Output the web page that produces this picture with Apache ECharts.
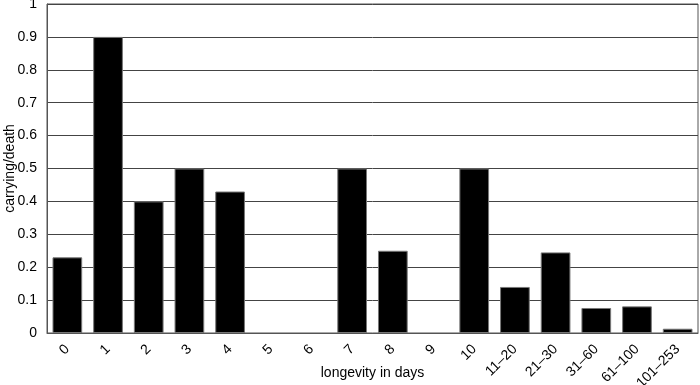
<!DOCTYPE html>
<html lang="en">
<head>
  <meta charset="UTF-8">
  <title>carrying/death</title>
  <script src="https://cdn.jsdelivr.net/npm/echarts@6/dist/echarts.min.js"></script>
</head>
<body style="margin:0;">
  <div id="main" style="width:700px;height:385px;background:#fff;"></div>
  <script type="text/javascript">
    var categories = ['0', '1', '2', '3', '4', '5', '6', '7', '8', '9', '10',
      '11–20', '21–30', '31–60', '61–100', '101–253'];
    var values = [0.23, 0.9, 0.4, 0.5, 0.43, 0, 0, 0.5, 0.25, 0, 0.5,
      0.14, 0.245, 0.076, 0.081, 0.013];

    var myChart = echarts.init(document.getElementById('main'));
    var font = 'Liberation Sans, Arial, sans-serif';

    // zero bars are not drawn at all in the original (no outline)
    var barData = values.map(function (v) { return v === 0 ? '-' : v; });

    var option = {
      animation: false,
      grid: {
        left: 47, right: 2, top: 4, bottom: 52,
        containLabel: false,
        outerBoundsMode: 'none',
        show: true, borderColor: '#555', borderWidth: 1
      },
      xAxis: {
        type: 'category',
        data: categories,
        name: 'longevity in days',
        nameLocation: 'middle',
        nameGap: 33,
        nameMoveOverlap: false,
        nameTextStyle: { color: '#000', fontSize: 14, fontFamily: font },
        axisLine: { lineStyle: { color: '#555' } },
        axisTick: { inside: true, length: 4, lineStyle: { color: '#555' } },
        axisLabel: { rotate: 45, margin: 14, color: '#000', fontSize: 14, fontFamily: font, interval: 0 }
      },
      yAxis: {
        type: 'value',
        min: 0, max: 1, interval: 0.1,
        name: 'carrying/death',
        nameLocation: 'middle',
        nameGap: 30,
        nameMoveOverlap: false,
        nameTextStyle: { color: '#000', fontSize: 14, fontFamily: font },
        axisLine: { show: true, lineStyle: { color: '#555' } },
        axisTick: { show: false },
        axisLabel: { color: '#000', fontSize: 14, fontFamily: font, margin: 10 },
        splitLine: { lineStyle: { color: '#444', width: 1 } }
      },
      series: [{
        type: 'bar',
        data: barData,
        barCategoryGap: '27%',
        itemStyle: { color: '#000', borderColor: '#777', borderWidth: 1 }
      }]
    };

    myChart.setOption(option);
  </script>
</body>
</html>
